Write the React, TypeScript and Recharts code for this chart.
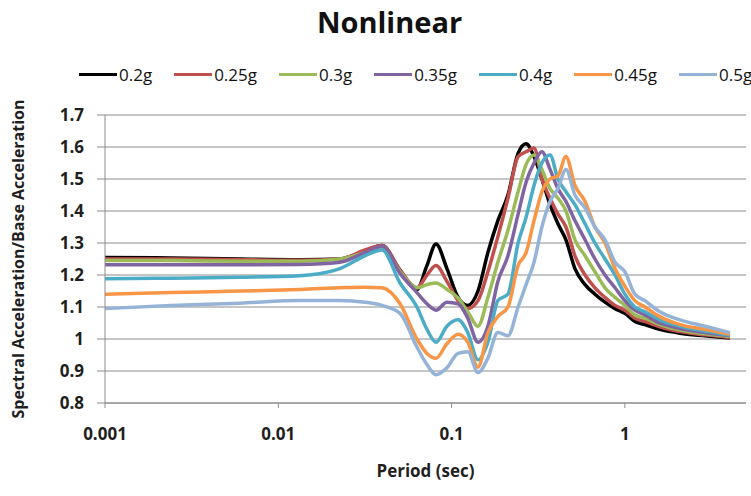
import { CartesianGrid, Line, LineChart, XAxis, YAxis } from "recharts";

const FONT = "'Open Sans', 'Noto Sans', sans-serif";

// period (sec), shared by every series
const periods = [
  0.001, 0.0024, 0.006, 0.0133, 0.0227, 0.0316, 0.0397, 0.0504, 0.0631, 0.0721,
  0.0813, 0.094, 0.109, 0.124, 0.142, 0.162, 0.185, 0.2115, 0.242, 0.269,
  0.299, 0.332, 0.37, 0.411, 0.457, 0.515, 0.589, 0.672, 0.768, 0.877,
  1.0, 1.142, 1.305, 1.59, 2.08, 2.9, 4.04,
];

const g020 = [
  1.255, 1.253, 1.25, 1.248, 1.25, 1.275, 1.292, 1.215, 1.155, 1.23,
  1.297, 1.22, 1.13, 1.105, 1.15, 1.27, 1.37, 1.45, 1.58, 1.61,
  1.57, 1.5, 1.42, 1.36, 1.31, 1.22, 1.17, 1.14, 1.115, 1.095,
  1.08, 1.055, 1.045, 1.03, 1.018, 1.01, 1.003,
];
const g025 = [
  1.25, 1.25, 1.248, 1.246, 1.25, 1.278, 1.292, 1.215, 1.16, 1.2,
  1.23, 1.18, 1.12, 1.095, 1.12, 1.21, 1.32, 1.44, 1.57, 1.585,
  1.597, 1.5, 1.44, 1.39, 1.35, 1.26, 1.2, 1.16, 1.13, 1.105,
  1.09, 1.065, 1.055, 1.038, 1.023, 1.013, 1.005,
];
const g030 = [
  1.245, 1.245, 1.243, 1.243, 1.25, 1.27, 1.283, 1.21, 1.16, 1.17,
  1.175, 1.155, 1.128, 1.085, 1.04, 1.13, 1.24, 1.34, 1.46, 1.545,
  1.575, 1.53, 1.47, 1.44, 1.4, 1.31, 1.26, 1.21, 1.16, 1.13,
  1.105, 1.075, 1.065, 1.045, 1.028, 1.016, 1.008,
];
const g035 = [
  1.232, 1.232, 1.232, 1.233, 1.24, 1.27, 1.29, 1.205, 1.145, 1.11,
  1.09, 1.115, 1.11, 1.065, 0.99, 1.04, 1.18, 1.26, 1.39, 1.49,
  1.55, 1.585, 1.53, 1.47, 1.43, 1.37, 1.31, 1.25, 1.2, 1.16,
  1.12, 1.09, 1.075, 1.05, 1.033, 1.02, 1.01,
];
const g040 = [
  1.188, 1.19, 1.193, 1.198, 1.22, 1.26, 1.278, 1.175, 1.1, 1.03,
  0.99, 1.04, 1.06, 1.02, 0.935, 0.99, 1.12, 1.14, 1.3, 1.38,
  1.48, 1.55, 1.575, 1.5, 1.46, 1.42, 1.36, 1.3, 1.25, 1.2,
  1.14, 1.1, 1.085, 1.06, 1.04, 1.025, 1.012,
];
const g045 = [
  1.14, 1.145, 1.15, 1.155, 1.16, 1.162, 1.16, 1.11, 1.0, 0.955,
  0.94, 0.985, 1.015, 0.99, 0.912, 1.02, 1.07, 1.1, 1.23, 1.27,
  1.37, 1.46, 1.5, 1.51, 1.57, 1.48, 1.43, 1.35, 1.3, 1.22,
  1.165, 1.12, 1.1, 1.07, 1.045, 1.03, 1.015,
];
const g050 = [
  1.095, 1.105, 1.112, 1.12, 1.12, 1.115, 1.105, 1.08, 0.975, 0.92,
  0.888, 0.91, 0.955, 0.96, 0.895, 0.94, 1.02, 1.01, 1.1, 1.17,
  1.24, 1.35, 1.43, 1.47, 1.53, 1.45, 1.41, 1.35, 1.31, 1.24,
  1.21, 1.14, 1.12, 1.085, 1.06, 1.04, 1.02,
];

const series = [
  { key: "a", name: "0.2g", color: "#000000", values: g020 },
  { key: "b", name: "0.25g", color: "#C0504D", values: g025 },
  { key: "c", name: "0.3g", color: "#9BBB59", values: g030 },
  { key: "d", name: "0.35g", color: "#8064A2", values: g035 },
  { key: "e", name: "0.4g", color: "#4BACC6", values: g040 },
  { key: "f", name: "0.45g", color: "#F79646", values: g045 },
  { key: "g", name: "0.5g", color: "#95B3D7", values: g050 },
];

const yTicks = [0.8, 0.9, 1.0, 1.1, 1.2, 1.3, 1.4, 1.5, 1.6, 1.7];
const xTicks = [0.001, 0.01, 0.1, 1];

const data = periods.map((t, i) => {
  const row: Record<string, number> = { t };
  series.forEach((s) => {
    row[s.key] = s.values[i];
  });
  return row;
});

const tickStyle = { fontSize: 17, fontWeight: 700, fill: "#1f1f1f", fontFamily: FONT };

export default function App() {
  return (
    <div
      style={{
        position: "absolute",
        left: 0,
        top: 0,
        width: 751,
        height: 496,
        background: "#fff",
        fontFamily: FONT,
      }}
    >
      <div
        style={{
          position: "absolute",
          top: 2,
          left: 14,
          width: 751,
          textAlign: "center",
          fontSize: 29,
          fontWeight: 700,
          color: "#111",
        }}
      >
        Nonlinear
      </div>
      <div
        style={{
          position: "absolute",
          top: 63,
          left: 79,
          width: 672,
          display: "flex",
          flexWrap: "nowrap",
          whiteSpace: "nowrap",
          fontSize: 17,
          color: "#111",
          zIndex: 2,
        }}
      >
        {series.map((s) => (
          <div
            key={s.key}
            style={{ display: "flex", alignItems: "center", flexShrink: 0, marginRight: 22 }}
          >
            <div style={{ width: 38, height: 3, background: s.color, marginRight: 2 }} />
            <span>{s.name}</span>
          </div>
        ))}
      </div>
      <LineChart
        width={751}
        height={496}
        data={data}
        margin={{ top: 115, right: 5, bottom: 53, left: 0 }}
      >
        <CartesianGrid vertical={false} stroke="#8c8c8c" strokeWidth={1} />
        <XAxis
          dataKey="t"
          type="number"
          scale="log"
          domain={[0.001, 5]}
          ticks={xTicks}
          allowDataOverflow
          height={40}
          tick={tickStyle}
          tickSize={5}
          tickMargin={20}
          stroke="#8c8c8c"
          tickFormatter={(v: number) => String(v)}
          label={{
            value: "Period (sec)",
            position: "bottom",
            dy: 17,
            style: { fontSize: 17, fontWeight: 700, fill: "#1f1f1f" },
          }}
        />
        <YAxis
          type="number"
          domain={[0.8, 1.7]}
          ticks={yTicks}
          width={105}
          tick={tickStyle}
          tickSize={8}
          tickMargin={13}
          stroke="#8c8c8c"
          tickFormatter={(v: number) => (v === 1 ? "1" : v.toFixed(1))}
          label={{
            value: "Spectral Acceleration/Base Acceleration",
            angle: -90,
            position: "center",
            dx: -34,
            style: { fontSize: 16, fontWeight: 700, fill: "#1f1f1f", textAnchor: "middle" },
          }}
        />
        {series.map((s) => (
          <Line
            key={s.key}
            dataKey={s.key}
            name={s.name}
            type="monotone"
            stroke={s.color}
            strokeWidth={3.5}
            dot={false}
            isAnimationActive={false}
          />
        ))}
      </LineChart>
    </div>
  );
}
